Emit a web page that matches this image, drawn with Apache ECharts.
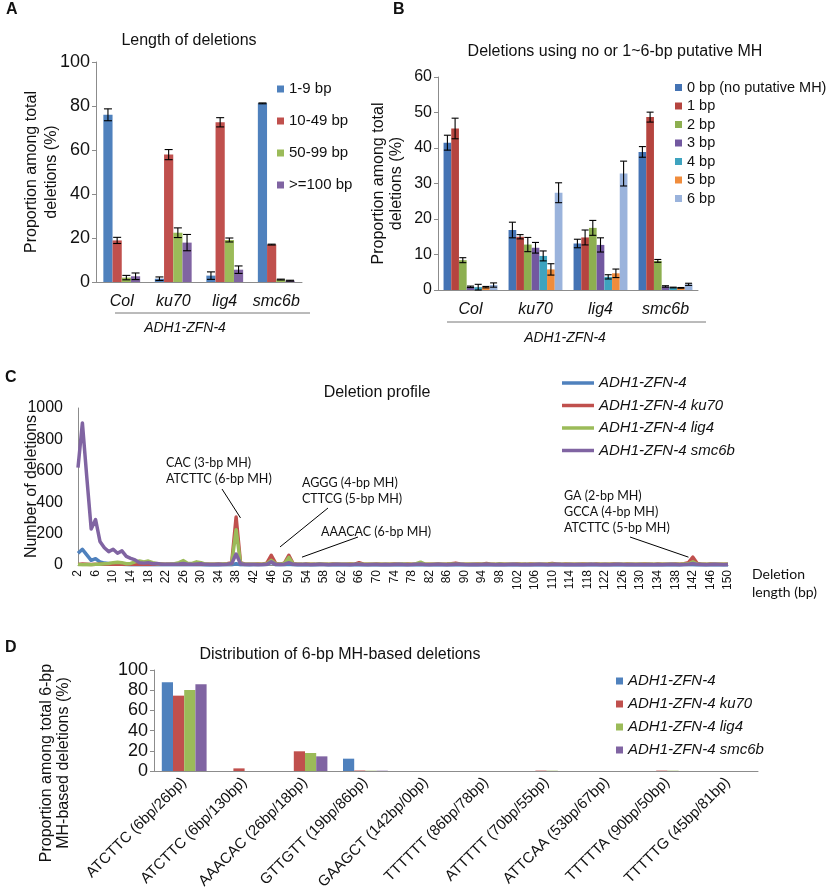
<!DOCTYPE html>
<html><head><meta charset="utf-8">
<script src="https://cdn.jsdelivr.net/npm/echarts@6/dist/echarts.min.js"></script>
<style>html,body{margin:0;padding:0;background:#fff}#c{width:827px;height:890px}</style>
</head><body><div id="c"></div>
<script>
// ---------- Panel A data ----------
const genotypes = ['Col', 'ku70', 'lig4', 'smc6b'];
const lenClasses = ['1-9 bp', '10-49 bp', '50-99 bp', '>=100 bp'];
const len1to9 = [76.0, 1.5, 2.9, 81.2];
const len10to49 = [18.9, 57.9, 72.6, 17.0];
const len50to99 = [2.0, 22.4, 19.1, 1.1];
const len100up = [2.6, 17.9, 5.6, 0.6];
const err1to9 = [2.7, 0.8, 1.7, 0.2];
const err10to49 = [1.4, 2.3, 2.1, 0.2];
const err50to99 = [1.0, 2.2, 0.9, 0.2];
const err100up = [1.5, 3.7, 1.7, 0.2];

// ---------- Panel B data ----------
const mhClasses = ['0 bp (no putative MH)', '1 bp', '2 bp', '3 bp', '4 bp', '5 bp', '6 bp'];
const mh0 = [41.5, 16.9, 13.1, 38.9];
const mh1 = [45.5, 15.0, 14.8, 48.7];
const mh2 = [8.4, 12.8, 17.5, 8.2];
const mh3 = [0.9, 11.9, 12.7, 1.0];
const mh4 = [0.8, 9.6, 3.7, 0.7];
const mh5 = [0.8, 5.8, 4.7, 0.6];
const mh6 = [1.4, 27.4, 32.8, 1.6];
const mhErr0 = [2.1, 2.2, 1.2, 1.5];
const mhErr1 = [2.9, 0.6, 2.1, 1.4];
const mhErr2 = [0.7, 2.0, 2.1, 0.4];
const mhErr3 = [0.2, 1.5, 2.0, 0.2];
const mhErr4 = [0.8, 1.4, 0.6, 0.1];
const mhErr5 = [0.2, 1.6, 1.2, 0.1];
const mhErr6 = [0.6, 2.8, 3.5, 0.3];

// ---------- Panel C data (deletion length 2..150) ----------
const delLengths = Array.from({length: 149}, (_, i) => String(i + 2));
const lineNames = ['ADH1-ZFN-4', 'ADH1-ZFN-4 ku70', 'ADH1-ZFN-4 lig4', 'ADH1-ZFN-4 smc6b'];
const profWT = [
 75,100,65,30,40,20,12,10,8,6,
 5,3,2,2,1,1,2,1,1,1,
 1,1,1,2,1,1,1,1,1,0,
 0,1,0,1,1,2,8,2,1,0,
 1,1,1,3,18,2,1,2,5,1,
 0,1,0,1,0,1,1,0,1,0,
 0,1,0,0,1,0,0,1,0,0,
 1,0,0,1,0,0,1,0,1,0,
 0,1,0,0,1,0,0,1,0,0,
 1,0,0,1,0,0,0,1,0,0,
 0,1,0,0,0,1,0,0,1,0,
 0,0,1,0,0,0,1,0,0,0,
 1,0,0,0,1,0,0,1,0,0,
 0,1,0,0,0,1,0,0,1,1,
 2,0,1,0,0,1,0,0,0];
const profKu70 = [
 4,6,5,3,4,6,5,4,6,5,
 4,5,6,5,4,6,5,4,5,6,
 4,5,6,8,10,6,5,8,6,5,
 4,5,6,5,8,15,305,15,5,4,
 5,6,5,12,62,10,5,12,62,8,
 5,4,6,5,4,6,5,4,6,5,
 4,5,6,5,15,5,4,5,6,5,
 4,5,6,5,4,6,5,4,6,5,
 4,5,6,5,6,8,12,6,5,4,
 5,6,5,10,5,4,6,5,4,5,
 6,5,4,6,5,4,5,6,10,5,
 4,6,5,4,5,6,5,4,6,5,
 4,5,6,5,4,6,5,4,5,6,
 5,4,6,5,4,5,6,5,8,15,
 50,10,5,4,6,5,4,5,4];
const profLig4 = [
 3,2,3,2,4,5,8,10,15,18,
 15,8,10,20,25,20,25,15,8,6,
 5,6,8,15,28,10,10,20,15,5,
 4,5,4,6,5,10,225,12,5,4,
 5,4,5,8,30,8,5,10,48,6,
 5,4,5,4,5,6,5,4,5,4,
 5,4,5,4,6,5,4,5,4,5,
 4,5,4,5,6,5,4,8,18,6,
 5,4,5,4,5,6,5,4,5,4,
 4,5,4,5,4,5,6,5,4,5,
 4,5,4,5,4,5,4,5,6,4,
 5,4,5,4,5,4,5,4,5,4,
 5,4,5,4,5,4,5,4,5,4,
 5,4,5,4,5,4,5,4,6,8,
 20,6,5,4,5,4,5,4,5];
const profSmc6b = [
 620,905,560,230,290,150,110,85,100,75,
 90,55,42,32,15,12,15,8,10,5,
 5,4,5,6,10,5,4,6,8,4,
 3,3,4,3,5,10,70,8,3,3,
 3,2,3,5,20,4,3,5,15,4,
 3,3,4,2,3,4,3,2,3,4,
 3,3,2,4,5,3,2,3,3,2,
 3,2,3,4,3,2,3,5,6,3,
 2,3,4,3,2,3,4,5,3,2,
 3,2,3,4,3,2,3,2,3,4,
 3,2,3,2,3,4,3,2,3,4,
 3,2,3,2,3,2,3,4,3,2,
 3,2,3,4,3,2,3,2,3,2,
 3,2,3,2,3,4,3,2,3,5,
 10,4,3,2,3,4,3,2,3];

// ---------- Panel D data ----------
const mhSites = ['ATCTTC (6bp/26bp)', 'ATCTTC (6bp/130bp)', 'AAACAC (26bp/18bp)', 'GTTGTT (19bp/86bp)',
  'GAAGCT (142bp/0bp)', 'TTTTTT (86bp/78bp)', 'ATTTTT (70bp/55bp)', 'ATTCAA (53bp/67bp)',
  'TTTTTA (90bp/50bp)', 'TTTTTG (45bp/81bp)'];
const dWT = [87.8, 0, 0, 12.2, 0, 0, 0, 0, 0, 0];
const dKu70 = [74.6, 2.6, 19.5, 0.5, 0, 0, 0.4, 0, 0.4, 0];
const dLig4 = [80.2, 0, 17.8, 0.3, 0, 0, 0.3, 0, 0.3, 0];
const dSmc6b = [85.8, 0, 14.5, 0.3, 0, 0, 0, 0, 0, 0];

// ---------- styling ----------
const FONT = "'Liberation Sans', Arial, sans-serif";
const CAL = "Lato, 'Liberation Sans', sans-serif";
const colsA = ['#4F81BD', '#C0504D', '#9BBB59', '#8064A2'];
const colsB = ['#4473B4', '#B5443F', '#8DAF50', '#7258A0', '#3EA3BF', '#F08C3C', '#9AB3DC'];
const AX = '#8C8C8C';
const TXT = '#111';

const chart = echarts.init(document.getElementById('c'), null, {renderer: 'canvas'});

function errRender(n, w, cap) {
  return function (params, api) {
    const ci = api.value(0), k = api.value(1), v = api.value(2), e = api.value(3);
    const c = api.coord([ci, v]);
    const x = c[0] - n * w / 2 + (k + 0.5) * w;
    const top = api.coord([ci, v + e])[1];
    const bot = api.coord([ci, Math.max(0, v - e)])[1];
    const st = {stroke: '#000', lineWidth: 1.1};
    return {type: 'group', children: [
      {type: 'line', shape: {x1: x, y1: top, x2: x, y2: bot}, style: st},
      {type: 'line', shape: {x1: x - cap, y1: top, x2: x + cap, y2: top}, style: st},
      {type: 'line', shape: {x1: x - cap, y1: bot, x2: x + cap, y2: bot}, style: st}
    ]};
  };
}
function errData(vals, errs) {
  const out = [];
  vals.forEach((arr, k) => arr.forEach((v, ci) => out.push([ci, k, v, errs[k][ci]])));
  return out;
}

const plain = v => String(v);
const catAxisBase = (grid, data, extra) => Object.assign({
  type: 'category', gridIndex: grid, data: data,
  axisLine: {lineStyle: {color: AX, width: 1}},
  axisTick: {show: false},
  axisLabel: {color: TXT, fontFamily: FONT, fontSize: 16, fontStyle: 'italic', margin: 12, interval: 0},
  splitLine: {show: false}
}, extra || {});
const valAxisBase = (grid, max, interval, extra) => Object.assign({
  type: 'value', gridIndex: grid, min: 0, max: max, interval: interval,
  axisLine: {show: true, lineStyle: {color: AX, width: 1}},
  axisTick: {show: true, length: 4, lineStyle: {color: AX}},
  axisLabel: {color: TXT, fontFamily: FONT, fontSize: 16, margin: 6, formatter: plain},
  splitLine: {show: false},
  nameLocation: 'middle',
  nameMoveOverlap: false,
  nameTextStyle: {color: TXT, fontFamily: FONT, fontSize: 16}
}, extra || {});

const aVals = [len1to9, len10to49, len50to99, len100up];
const aErrs = [err1to9, err10to49, err50to99, err100up];
const bVals = [mh0, mh1, mh2, mh3, mh4, mh5, mh6];
const bErrs = [mhErr0, mhErr1, mhErr2, mhErr3, mhErr4, mhErr5, mhErr6];
const profs = [profWT, profKu70, profLig4, profSmc6b];
const dVals = [dWT, dKu70, dLig4, dSmc6b];

const BW_A = 9.2, BW_B = 7.7, BW_D = 11.2;
const series = [];
aVals.forEach((arr, k) => series.push({
  type: 'bar', name: 'A:' + lenClasses[k], xAxisIndex: 0, yAxisIndex: 0, data: arr,
  barWidth: BW_A, barGap: '0%', itemStyle: {color: colsA[k]}, silent: true
}));
series.push({type: 'custom', xAxisIndex: 0, yAxisIndex: 0, renderItem: errRender(4, BW_A, 4),
  data: errData(aVals, aErrs), encode: {x: 0, y: 2}, z: 5, silent: true});
bVals.forEach((arr, k) => series.push({
  type: 'bar', name: 'B:' + mhClasses[k], xAxisIndex: 1, yAxisIndex: 1, data: arr,
  barWidth: BW_B, barGap: '0%', itemStyle: {color: colsB[k]}, silent: true
}));
series.push({type: 'custom', xAxisIndex: 1, yAxisIndex: 1, renderItem: errRender(7, BW_B, 3.5),
  data: errData(bVals, bErrs), encode: {x: 0, y: 2}, z: 5, silent: true});
profs.forEach((arr, k) => series.push({
  type: 'line', name: 'C:' + lineNames[k], xAxisIndex: 2, yAxisIndex: 2, data: arr,
  symbol: 'none', lineStyle: {color: colsA[k], width: 3.5, join: 'round'}, itemStyle: {color: colsA[k]},
  silent: true, animation: false
}));
dVals.forEach((arr, k) => series.push({
  type: 'bar', name: 'D:' + lineNames[k], xAxisIndex: 3, yAxisIndex: 3, data: arr,
  barWidth: BW_D, barGap: '0%', itemStyle: {color: colsA[k]}, silent: true
}));

const strip = n => n.replace(/^[A-D]:/, '');
const titleStyle = {color: TXT, fontFamily: FONT, fontSize: 16, fontWeight: 'normal'};

const option = {
  animation: false,
  backgroundColor: '#fff',
  textStyle: {fontFamily: FONT},
  title: [
    {text: 'Length of deletions', left: 189, top: 33, textAlign: 'center', padding: 0, textStyle: titleStyle},
    {text: 'Deletions using no or 1~6-bp putative MH', left: 615, top: 44, textAlign: 'center', padding: 0, textStyle: titleStyle},
    {text: 'Deletion profile', left: 377, top: 385, textAlign: 'center', padding: 0, textStyle: titleStyle},
    {text: 'Distribution of 6-bp MH-based deletions', left: 340, top: 647, textAlign: 'center', padding: 0, textStyle: titleStyle}
  ],
  grid: [
    {left: 96, top: 62, width: 206, height: 220, outerBoundsMode: 'none'},
    {left: 438, top: 77, width: 260, height: 213, outerBoundsMode: 'none'},
    {left: 78, top: 408, width: 650, height: 157, outerBoundsMode: 'none'},
    {left: 154, top: 670, width: 604, height: 101, outerBoundsMode: 'none'}
  ],
  xAxis: [
    catAxisBase(0, genotypes),
    catAxisBase(1, genotypes),
    catAxisBase(2, delLengths, {boundaryGap: false,
      axisLabel: {color: TXT, fontFamily: FONT, fontSize: 12, rotate: 90, interval: 3, margin: 5}}),
    catAxisBase(3, mhSites, {
      axisLabel: {color: TXT, fontFamily: FONT, fontSize: 15, rotate: 45, interval: 0, margin: 9}})
  ],
  yAxis: [
    valAxisBase(0, 100, 20, {name: 'Proportion among total\ndeletions (%)', nameGap: 34,
      axisLabel: {color: TXT, fontFamily: FONT, fontSize: 18, margin: 6, formatter: plain},
      nameTextStyle: {color: TXT, fontFamily: FONT, fontSize: 16, lineHeight: 20}}),
    valAxisBase(1, 60, 10, {name: 'Proportion among total\ndeletions (%)', nameGap: 32,
      nameTextStyle: {color: TXT, fontFamily: FONT, fontSize: 16, lineHeight: 18}}),
    valAxisBase(2, 1000, 200, {name: 'Number of deletions', nameGap: 38, axisTick: {show: false},
      axisLabel: {color: TXT, fontFamily: FONT, fontSize: 16, margin: 15, formatter: plain}}),
    valAxisBase(3, 100, 20, {
      axisLabel: {color: TXT, fontFamily: FONT, fontSize: 18, margin: 6, formatter: plain}})
  ],
  legend: [
    {data: lenClasses.map(n => 'A:' + n), formatter: strip, orient: 'vertical', left: 277, top: 80, padding: 0,
      itemWidth: 7, itemHeight: 7, itemGap: 14, itemTextGap: 6, icon: 'rect', selectedMode: false,
      textStyle: {color: TXT, fontFamily: FONT, fontSize: 15, lineHeight: 18}},
    {data: mhClasses.map(n => 'B:' + n), formatter: strip, orient: 'vertical', left: 675, top: 79, padding: 0,
      itemWidth: 7, itemHeight: 7, itemGap: 1.5, itemTextGap: 3, icon: 'rect', selectedMode: false,
      textStyle: {color: TXT, fontFamily: FONT, fontSize: 14.5, lineHeight: 17}},
    {data: lineNames.map(n => 'C:' + n), formatter: strip, orient: 'vertical', left: 562, top: 374, padding: 0,
      itemWidth: 32, itemHeight: 3.5, itemGap: 4.5, itemTextGap: 3, icon: 'rect', selectedMode: false,
      textStyle: {color: TXT, fontFamily: FONT, fontSize: 15, fontStyle: 'italic', lineHeight: 18}},
    {data: lineNames.map(n => 'D:' + n), formatter: strip, orient: 'vertical', left: 616, top: 672, padding: 0,
      itemWidth: 7, itemHeight: 7, itemGap: 5, itemTextGap: 4, icon: 'rect', selectedMode: false,
      textStyle: {color: TXT, fontFamily: FONT, fontSize: 15, fontStyle: 'italic', lineHeight: 18}}
  ],
  series: series
};
chart.setOption(option);

// ---------- annotations, panel letters, group labels ----------
const toPx = (cat, v) => chart.convertToPixel({gridIndex: 2}, [cat, v]);
const lineSt = {stroke: '#000', lineWidth: 1};
const lead = (x, y, cat, v) => {
  const p = toPx(cat, v);
  return {type: 'line', shape: {x1: x, y1: y, x2: p[0], y2: p[1]}, style: lineSt, silent: true};
};
const txt = (x, y, s, o) => ({type: 'text', x: x, y: y, silent: true,
  style: Object.assign({text: s, fill: TXT, font: '12.5px ' + CAL, lineHeight: 16}, o || {})});
const letter = (x, y, s) => txt(x, y, s, {font: 'bold 16px ' + FONT});

const graphics = [
  letter(6, 2, 'A'), letter(393, 2, 'B'), letter(5, 370, 'C'), letter(5, 640, 'D'),
  {type: 'line', shape: {x1: 115, y1: 313, x2: 310, y2: 313}, style: {stroke: '#777', lineWidth: 1}, silent: true},
  {type: 'line', shape: {x1: 447, y1: 322, x2: 706, y2: 322}, style: {stroke: '#777', lineWidth: 1}, silent: true},
  txt(185, 320, 'ADH1-ZFN-4', {font: 'italic 14px ' + FONT, textAlign: 'center'}),
  txt(565, 330, 'ADH1-ZFN-4', {font: 'italic 14px ' + FONT, textAlign: 'center'}),
  txt(166, 455, 'CAC (3-bp MH)\nATCTTC (6-bp MH)'),
  txt(302, 475, 'AGGG (4-bp MH)\nCTTCG (5-bp MH)'),
  txt(321, 524, 'AAACAC (6-bp MH)'),
  txt(564, 488, 'GA (2-bp MH)\nGCCA (4-bp MH)\nATCTTC (5-bp MH)'),
  txt(752, 565, 'Deletion\nlength (bp)', {font: '14px ' + CAL, lineHeight: 18}),
  lead(222, 489, '39', 300),
  lead(328, 508, '48', 115),
  lead(358, 537, '53', 50),
  lead(630, 537, '141', 50),
  {type: 'text', x: 55, y: 763, rotation: Math.PI / 2, silent: true,
    style: {text: 'Proportion among total 6-bp\nMH-based deletions (%)', fill: TXT,
      font: '16px ' + FONT, textAlign: 'center', textVerticalAlign: 'middle', lineHeight: 17}}
];
chart.setOption({graphic: graphics});
</script>
</body></html>
